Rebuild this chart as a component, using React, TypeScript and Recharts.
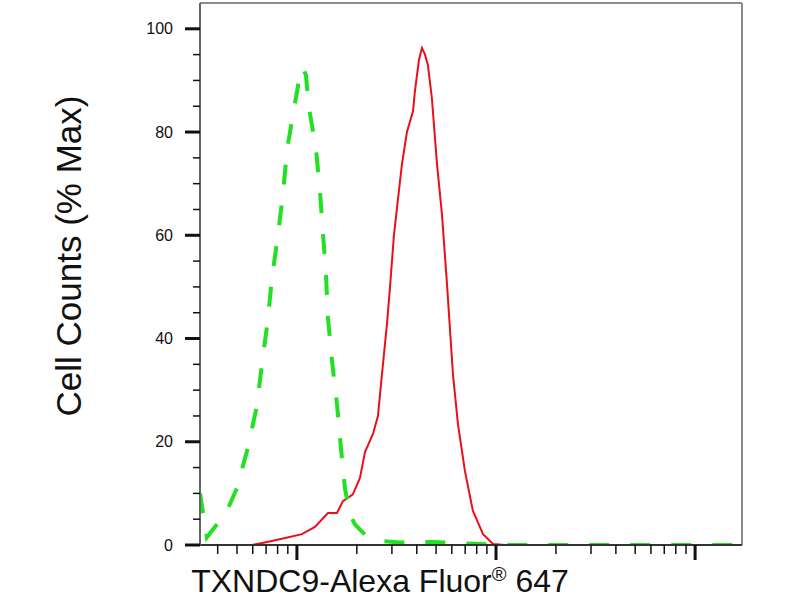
import { LineChart, Line, XAxis, YAxis, ReferenceLine } from "recharts"

// fluorescence intensity (log axis) vs % of max cell count
const isotypeX = [326, 353, 396, 450, 499, 567, 630, 667, 714, 749, 803, 851, 891, 966, 1035, 1072, 1110, 1149, 1245, 1305, 1351, 1399, 1432, 1500, 1589, 1664, 1742, 1845, 1955, 2198, 2612, 3295, 4822, 6590, 8318, 10470, 172000]
const isotypeY = [10, 1.5, 4, 7, 11, 18.8, 27, 35, 43.5, 51.7, 60, 68, 76.4, 84.5, 91, 92.5, 91, 84.7, 77, 68.6, 60.5, 52.5, 44, 35.7, 27.3, 18.8, 11, 6, 4, 2, 0.8, 0.5, 0.6, 0.3, 0.2, 0, 0]

const stainedX = [326, 594, 690, 841, 1060, 1231, 1432, 1589, 1702, 1910, 2073, 2198, 2410, 2553, 2673, 2833, 2933, 3071, 3218, 3370, 3570, 3828, 3917, 4102, 4248, 4398, 4549, 4762, 5054, 5354, 5672, 6080, 6440, 6982, 7656, 8605, 9660, 11090, 172000]
const stainedY = [0, 0, 0.5, 1.2, 2.1, 3.5, 6.2, 6.2, 8.5, 9.8, 13, 18, 21.5, 25, 33, 42.8, 49.8, 60, 67, 73.8, 80, 84, 88, 94, 96.3, 95, 93, 86.6, 73.8, 64, 50.6, 33, 23.4, 14.3, 6.6, 2.1, 0.2, 0, 0]

const X_DOMAIN = [326, 172000]
const X_TICKS = [400, 500, 600, 700, 800, 900, 1000, 2000, 3000, 4000, 5000, 6000, 7000, 8000, 9000, 10000, 20000, 30000, 40000, 50000, 60000, 70000, 80000, 90000, 100000]
const Y_DOMAIN = [0, 105]
const Y_TICKS = [0, 5, 10, 15, 20, 25, 30, 35, 40, 45, 50, 55, 60, 65, 70, 75, 80, 85, 90, 95, 100]

const isotype = isotypeX.map((x, i) => ({ x, y: isotypeY[i] }))
const stained = stainedX.map((x, i) => ({ x, y: stainedY[i] }))

const FONT = "'Liberation Sans', Arial, sans-serif"

function isDecade(v: number) {
  const l = Math.log10(v)
  return Math.abs(l - Math.round(l)) < 1e-6
}

function XTick(props: any) {
  const { x, y, payload } = props
  const major = isDecade(payload.value)
  return (
    <line
      x1={x}
      x2={x}
      y1={y}
      y2={y + (major ? 15 : 9)}
      stroke="#111"
      strokeWidth={major ? 3 : 1.5}
    />
  )
}

function YTick(props: any) {
  const { x, y, payload } = props
  const major = payload.value % 20 === 0
  return (
    <g>
      <line
        x1={x - (major ? 15 : 7)}
        x2={x}
        y1={y}
        y2={y}
        stroke="#111"
        strokeWidth={major ? 3 : 1.5}
      />
      {major && (
        <text x={x - 27} y={y} dy="0.35em" textAnchor="end" fontSize={16} fill="#111" fontFamily={FONT}>
          {payload.value}
        </text>
      )}
    </g>
  )
}

export default function App() {
  return (
    <div style={{ position: "absolute", left: 0, top: 0, width: 800, height: 600, background: "#fff" }}>
      <LineChart width={800} height={600} data={stained} margin={{ top: 3, right: 58, bottom: 0, left: 0 }}>
        <XAxis
          type="number"
          dataKey="x"
          scale="log"
          domain={X_DOMAIN}
          allowDataOverflow
          ticks={X_TICKS}
          interval={0}
          tick={(p: any) => <XTick {...p} />}
          tickLine={false}
          tickSize={0}
          tickMargin={0}
          height={55}
          axisLine={{ stroke: "#333", strokeWidth: 2 }}
        />
        <YAxis
          type="number"
          domain={Y_DOMAIN}
          allowDataOverflow
          ticks={Y_TICKS}
          interval={0}
          tick={(p: any) => <YTick {...p} />}
          tickLine={false}
          tickSize={0}
          tickMargin={0}
          width={200}
          axisLine={{ stroke: "#666", strokeWidth: 2 }}
        />
        <ReferenceLine y={Y_DOMAIN[1]} stroke="#8c8c8c" strokeWidth={2} ifOverflow="visible" />
        <ReferenceLine x={X_DOMAIN[1]} stroke="#8c8c8c" strokeWidth={2} ifOverflow="visible" />
        <Line
          data={stained}
          dataKey="y"
          type="linear"
          stroke="#e8101a"
          strokeWidth={2}
          dot={false}
          isAnimationActive={false}
        />
        <Line
          data={isotype}
          dataKey="y"
          type="linear"
          stroke="#22e022"
          strokeWidth={4}
          strokeDasharray="20 21"
          dot={false}
          isAnimationActive={false}
        />
        <text
          x={68}
          y={256}
          transform="rotate(-90 68 256)"
          textAnchor="middle"
          dominantBaseline="central"
          fontSize={35}
          fill="#111"
          fontFamily={FONT}
        >
          Cell Counts (% Max)
        </text>
        <text x={380} y={592} textAnchor="middle" fontSize={32} fill="#111" fontFamily={FONT}>
          TXNDC9-Alexa Fluor
          <tspan fontSize={20} dy={-11}>®</tspan>
          <tspan dy={11}> 647</tspan>
        </text>
      </LineChart>
    </div>
  )
}
